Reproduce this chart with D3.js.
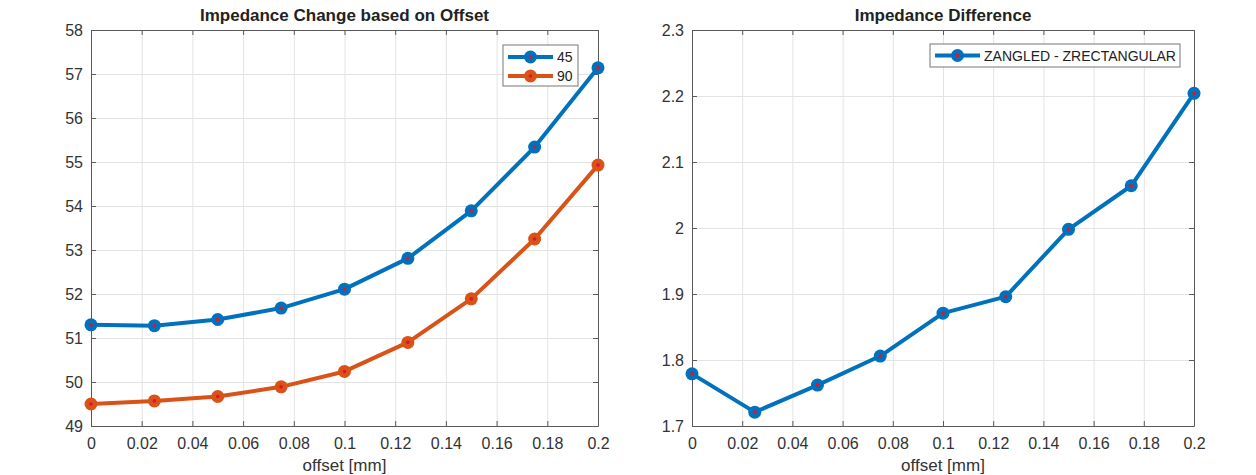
<!DOCTYPE html>
<html>
<head>
<meta charset="utf-8">
<script src="https://cdn.jsdelivr.net/npm/d3@7"></script>
<style>
  html, body { margin: 0; padding: 0; background: #fff; }
  svg { display: block; font-family: "Liberation Sans", Arial, sans-serif; }
</style>
</head>
<body>
<svg id="chart" width="1256" height="475"></svg>
<script>
// Offsets in mm
const offsets = [0, 0.025, 0.05, 0.075, 0.1, 0.125, 0.15, 0.175, 0.2];
// Impedance (ohm) for the 45 and 90 degree geometries
const z45 = [51.30, 51.28, 51.42, 51.68, 52.11, 52.81, 53.89, 55.34, 57.14];
const z90 = [49.50, 49.57, 49.67, 49.89, 50.24, 50.90, 51.89, 53.25, 54.93];
// Angled minus rectangular difference
const zDiff = [1.779, 1.721, 1.762, 1.806, 1.871, 1.896, 1.998, 2.064, 2.204];

const xTicks = [0, 0.02, 0.04, 0.06, 0.08, 0.1, 0.12, 0.14, 0.16, 0.18, 0.2];
const yTicksLeft = [49, 50, 51, 52, 53, 54, 55, 56, 57, 58];
const yTicksRight = [1.7, 1.8, 1.9, 2.0, 2.1, 2.2, 2.3];

const BLUE = "#0072BD", ORANGE = "#D95319", DOT = "#e8102a";
const AXIS = "#5a5a5a", TEXT = "#333", GRID = "#e3e3e3";

const svg = d3.select("#chart");
svg.append("rect").attr("width", 1256).attr("height", 475).attr("fill", "#fff");

function panel(opts) {
  const { left, right, top, bottom, yDomain, yTicks, yFmt, title, series, legend } = opts;
  const x = d3.scaleLinear().domain([0, 0.2]).range([left, right]);
  const y = d3.scaleLinear().domain(yDomain).range([bottom, top]);
  const g = svg.append("g");

  // grid
  g.append("g").attr("transform", `translate(0,${bottom})`)
    .call(d3.axisBottom(x).tickValues(xTicks).tickSize(-(bottom - top)).tickFormat(""))
    .call(a => a.select(".domain").remove())
    .call(a => a.selectAll("line").attr("stroke", GRID));
  g.append("g").attr("transform", `translate(${left},0)`)
    .call(d3.axisLeft(y).tickValues(yTicks).tickSize(-(right - left)).tickFormat(""))
    .call(a => a.select(".domain").remove())
    .call(a => a.selectAll("line").attr("stroke", GRID));

  // axes with inward ticks on all four sides
  const styleAxis = a => {
    a.select(".domain").attr("stroke", AXIS);
    a.selectAll(".tick line").attr("stroke", AXIS);
    a.selectAll("text").attr("fill", TEXT).style("font-size", "16px")
      .style("font-family", "'Liberation Sans', Arial, sans-serif");
  };
  g.append("g").attr("transform", `translate(0,${bottom})`)
    .call(d3.axisBottom(x).tickValues(xTicks).tickSizeInner(-5).tickSizeOuter(0)
      .tickPadding(12).tickFormat(d3.format("~g")))
    .call(styleAxis);
  g.append("g").attr("transform", `translate(0,${top})`)
    .call(d3.axisTop(x).tickValues(xTicks).tickSizeInner(-5).tickSizeOuter(0).tickFormat(""))
    .call(styleAxis);
  g.append("g").attr("transform", `translate(${left},0)`)
    .call(d3.axisLeft(y).tickValues(yTicks).tickSizeInner(-5).tickSizeOuter(0)
      .tickPadding(8).tickFormat(yFmt))
    .call(styleAxis);
  g.append("g").attr("transform", `translate(${right},0)`)
    .call(d3.axisRight(y).tickValues(yTicks).tickSizeInner(-5).tickSizeOuter(0).tickFormat(""))
    .call(styleAxis);

  // title and x label
  g.append("text").attr("x", (left + right) / 2).attr("y", 21)
    .attr("text-anchor", "middle").attr("fill", "#222")
    .style("font-size", "17px").style("font-weight", "bold").text(title);
  g.append("text").attr("x", (left + right) / 2).attr("y", 471)
    .attr("text-anchor", "middle").attr("fill", TEXT)
    .style("font-size", "17px").text("offset [mm]");

  // series
  const line = d3.line().x((d, i) => x(offsets[i])).y(d => y(d));
  series.forEach(s => {
    g.append("path").datum(s.values).attr("d", line)
      .attr("fill", "none").attr("stroke", s.color).attr("stroke-width", 4)
      .attr("stroke-linejoin", "round");
    const m = g.append("g").selectAll("g").data(s.values).join("g")
      .attr("transform", (d, i) => `translate(${x(offsets[i])},${y(d)})`);
    m.append("circle").attr("r", 6.5).attr("fill", s.color);
    m.append("circle").attr("r", 1.8).attr("fill", DOT);
  });

  // legend
  const lg = g.append("g");
  lg.append("rect").attr("x", legend.x).attr("y", legend.y)
    .attr("width", legend.w).attr("height", legend.h)
    .attr("fill", "#fff").attr("stroke", "#777").attr("stroke-width", 1);
  series.forEach((s, i) => {
    const cy = legend.y + legend.row0 + i * legend.rowH;
    lg.append("line").attr("x1", legend.x + 5).attr("x2", legend.x + legend.lineW)
      .attr("y1", cy).attr("y2", cy).attr("stroke", s.color).attr("stroke-width", 4);
    const mx = legend.x + 5 + (legend.lineW - 5) / 2;
    lg.append("circle").attr("cx", mx).attr("cy", cy).attr("r", 6.5).attr("fill", s.color);
    lg.append("circle").attr("cx", mx).attr("cy", cy).attr("r", 1.8).attr("fill", DOT);
    lg.append("text").attr("x", legend.x + legend.lineW + 4).attr("y", cy + 5)
      .attr("fill", "#222").style("font-size", "14px").text(s.name);
  });
}

panel({
  left: 91, right: 598, top: 30, bottom: 426,
  yDomain: [49, 58], yTicks: yTicksLeft, yFmt: d3.format("d"),
  title: "Impedance Change based on Offset",
  series: [
    { name: "45", values: z45, color: BLUE },
    { name: "90", values: z90, color: ORANGE }
  ],
  legend: { x: 503, y: 45, w: 75, h: 41, row0: 12, rowH: 19, lineW: 50 }
});

panel({
  left: 692, right: 1194, top: 30, bottom: 426,
  yDomain: [1.7, 2.3], yTicks: yTicksRight, yFmt: d3.format("~g"),
  title: "Impedance Difference",
  series: [
    { name: "ZANGLED - ZRECTANGULAR", values: zDiff, color: BLUE }
  ],
  legend: { x: 930, y: 44, w: 250, h: 23, row0: 11.5, rowH: 19, lineW: 50 }
});
</script>
</body>
</html>
